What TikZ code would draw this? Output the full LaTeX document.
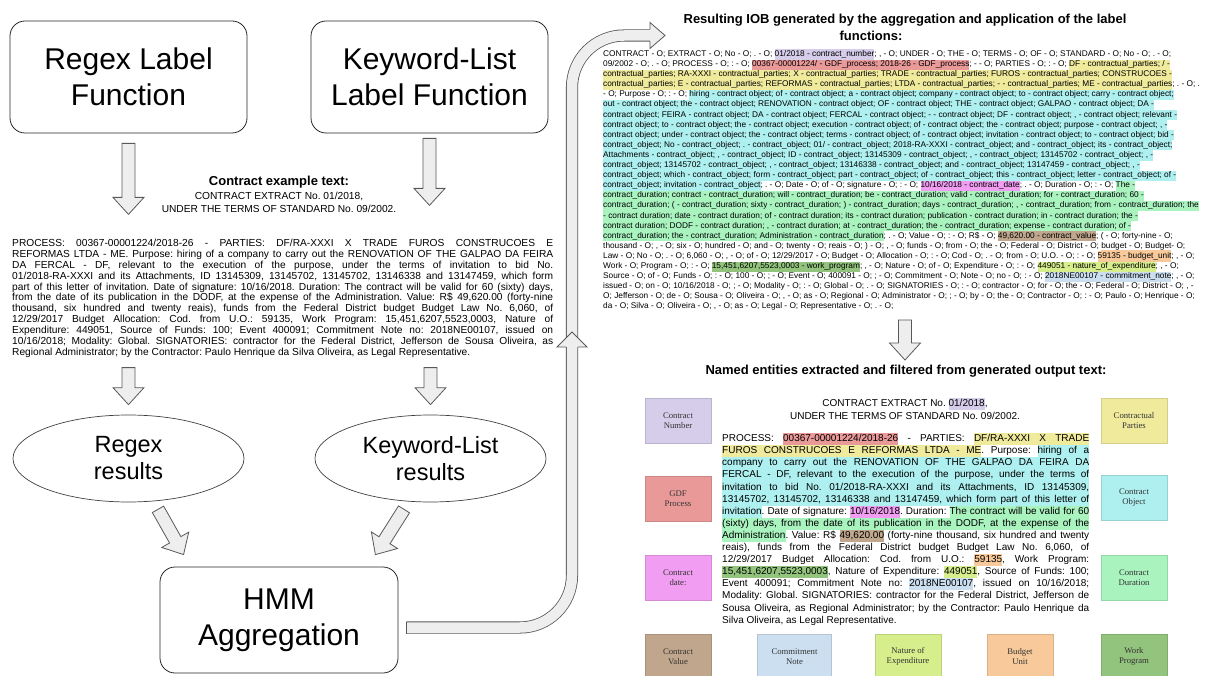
\documentclass[tikz,border=0pt]{standalone}
\usepackage{fontspec}
\setmainfont{Liberation Sans}
\newfontfamily\tagfont{Liberation Serif}
\usetikzlibrary{positioning,calc,shapes.geometric}

\definecolor{boxline}{HTML}{262626}
\definecolor{ellline}{HTML}{404040}
\definecolor{arrowfill}{HTML}{EEEEEE}
\definecolor{arrowline}{HTML}{595959}
\definecolor{tagtext}{HTML}{333333}
\definecolor{cnum}{HTML}{D5CDEA}
\definecolor{cgdf}{HTML}{EA9999}
\definecolor{cpart}{HTML}{F0EA9D}
\definecolor{cobj}{HTML}{AEEFF0}
\definecolor{cdate}{HTML}{F19DF1}
\definecolor{cdur}{HTML}{A9F3BF}
\definecolor{cval}{HTML}{BFA68C}
\definecolor{cbud}{HTML}{F8CA9B}
\definecolor{cwork}{HTML}{93C47D}
\definecolor{cnat}{HTML}{D6EE8C}
\definecolor{ccom}{HTML}{CCDFF1}

\setlength{\fboxsep}{0pt}
\frenchspacing

% highlight word by word, the gaps are coloured too (they stretch with the line)
\def\hlend{hl-end}
\newcommand{\hlx}[2]{\def\hlcol{#1}\hlxloop#2 \hlend}
\def\hlxloop#1 #2\hlend{\hlword{#1}\ifx\hlend#2\hlend\else\hlgap\hlxloop#2\hlend\fi}
\newcommand{\hlword}[1]{\colorbox{\hlcol}{\strut#1}}
\newcommand{\hlgap}{{\color{\hlcol}\leaders\hrule height\ht\strutbox depth\dp\strutbox\hskip\fontdimen2\font plus\fontdimen3\font minus\fontdimen4\font\relax}}
\newcommand{\jline}[1]{\leavevmode\hbox to\hsize{\spaceskip=0pt\xspaceskip=0pt #1}}
\newcommand{\iobline}[1]{\mbox{\spaceskip=0pt\xspaceskip=0pt #1}}
\newcommand{\oul}[1]{\setbox0\hbox{#1}\rlap{\color{cbud}\rule[-2.4pt]{\wd0}{0.9pt}}\box0}

% block arrow from #2 to the tip #3
\newcommand{\blockarrow}[3][]{%
  \coordinate (ba-s) at (#2);
  \coordinate (ba-t) at (#3);
  \coordinate (ba-b) at ($(ba-t)!17pt!(ba-s)$);
  \filldraw[arrowbody,#1] ($(ba-s)!6.5pt!90:(ba-t)$) -- ($(ba-b)!6.5pt!-90:(ba-s)$) -- ($(ba-b)!15.5pt!-90:(ba-s)$) -- (ba-t)
    -- ($(ba-b)!15.5pt!90:(ba-s)$) -- ($(ba-b)!6.5pt!90:(ba-s)$) -- ($(ba-s)!6.5pt!-90:(ba-t)$) -- cycle;}

\begin{document}
\begin{tikzpicture}[x=1pt, y=-1pt,
  every node/.style={inner sep=0pt},
  fnbox/.style={draw=boxline, line width=0.8pt, rounded corners=15pt, minimum width=237pt, minimum height=112pt, align=center, font=\fontsize{30}{36}\selectfont},
  resbox/.style={ellipse, draw=ellline, line width=0.7pt, minimum width=231pt, minimum height=87pt, align=center, font=\fontsize{23.5}{27}\selectfont},
  headline/.style={font=\bfseries\fontsize{13}{15}\selectfont},
  tagbox/.style={fill=#1, draw=#1!88!black, line width=0.4pt, minimum width=66pt, minimum height=45pt, align=center, text=tagtext, font=\tagfont\fontsize{8.7}{10}\selectfont},
  arrowbody/.style={fill=arrowfill, draw=arrowline, line width=0.8pt},
  looparrow/.style={draw=arrowline, line width=0.8pt, double=arrowfill, double distance=10.5pt, rounded corners=52pt}]
\useasboundingbox (0,0) rectangle (1208,676);

% left column
\node[fnbox] (rlf) at (128.5,77) {Regex Label\\Function};
\node[fnbox] (klf) at (429.5,77) {Keyword-List\\Label Function};

\node[headline] (extitle) at (279,182) {Contract example text:};
\node[font=\fontsize{10.2}{12.5}\selectfont, align=center] (exhead) at (279,202.5) {CONTRACT EXTRACT No. 01/2018,\\UNDER THE TERMS OF STANDARD No. 09/2002.};
\node[font=\fontsize{10.2}{10.9}\selectfont, text width=541pt, align=left, anchor=base west] (expara) at (12,246.5) {%
\jline{PROCESS: 00367-00001224/2018-26 - PARTIES: DF/RA-XXXI X TRADE FUROS CONSTRUCOES E}\\
\jline{REFORMAS LTDA - ME. Purpose: hiring of a company to carry out the RENOVATION OF THE GALPAO DA FEIRA}\\
\jline{DA FERCAL - DF, relevant to the execution of the purpose, under the terms of invitation to bid No.}\\
\jline{01/2018-RA-XXXI and its Attachments, ID 13145309, 13145702, 13145702, 13146338 and 13147459, which form}\\
\jline{part of this letter of invitation. Date of signature: 10/16/2018. Duration: The contract will be valid for 60 (sixty) days,}\\
\jline{from the date of its publication in the DODF, at the expense of the Administration. Value: R\$ 49,620.00 (forty-nine}\\
\jline{thousand, six hundred and twenty reais), funds from the Federal District budget Budget Law No. 6,060, of}\\
\jline{12/29/2017 Budget Allocation: Cod. from U.O.: 59135, Work Program: 15,451,6207,5523,0003, Nature of}\\
\jline{Expenditure: 449051, Source of Funds: 100; Event 400091; Commitment Note no: 2018NE00107, issued on}\\
\jline{10/16/2018; Modality: Global. SIGNATORIES: contractor for the Federal District, Jefferson de Sousa Oliveira, as}\\
\iobline{Regional Administrator; by the Contractor: Paulo Henrique da Silva Oliveira, as Legal Representative.}};

\node[resbox] (rres) at (128.5,458.5) {Regex\\results};
\node[resbox] (kres) at (430.5,458.5) {Keyword-List\\results};
\node[fnbox, minimum width=238pt, minimum height=106pt] (hmm) at (279,620) {HMM\\Aggregation};

\blockarrow{$(rlf.south)+(0,10)$}{$(rlf.south)+(0,81)$}
\blockarrow{$(klf.south)+(0,5)$}{$(klf.south)+(0,72)$}
\blockarrow{$(rres.north)+(0,-47)$}{$(rres.north)+(0,-10)$}
\blockarrow{$(kres.north)+(0,-47)$}{$(kres.north)+(0,-10)$}
\blockarrow{$(rres.south)+(29.5,7)$}{$(hmm.north west)+(24,-12)$}
\blockarrow{$(kres.south)+(-26.5,7)$}{$(hmm.north east)+(-23,-12)$}

% big arrow from the aggregation up to the IOB text
\coordinate (loopstart) at ($(hmm.east)+(8,7.5)$);
\coordinate (loopup) at (572,347);
\coordinate (loopend) at (650,35.5);
\draw[looparrow] (loopstart) -- (loopstart -| loopup) -- (loopend -| loopup) -- (loopend);
\draw[arrowline, line width=0.8pt] ($(loopstart)+(0,-6)$) -- ($(loopstart)+(0,6)$);
\fill[arrowfill] ($(loopend)+(0,-13)$) -- ($(loopend)+(15,0)$) -- ($(loopend)+(0,13)$) -- cycle;
\draw[arrowline, line width=0.8pt, line join=miter] ($(loopend)+(0,-6)$) -- ($(loopend)+(0,-13)$) -- ($(loopend)+(15,0)$) -- ($(loopend)+(0,13)$) -- ($(loopend)+(0,6)$);
\fill[arrowfill] ($(loopup)+(-15,0)$) -- ($(loopup)+(0,-15)$) -- ($(loopup)+(15,0)$) -- cycle;
\draw[arrowline, line width=0.8pt, line join=miter] ($(loopup)+(-6,0)$) -- ($(loopup)+(-15,0)$) -- ($(loopup)+(0,-15)$) -- ($(loopup)+(15,0)$) -- ($(loopup)+(6,0)$);

% right column: IOB output
\node[headline] (iobtitle) at (905,20) {Resulting IOB generated by the aggregation and application of the label};
\node[headline] (iobtitleb) at (871,36) {functions:};
\node[font=\fontsize{8.3}{10.1}\selectfont, text width=604pt, align=left, anchor=base west] (iob) at (603,56.5) {%
\iobline{CONTRACT - O; EXTRACT - O; No - O; . - O; \hlx{cnum}{01/2018 - contract\_number}; , - O; UNDER - O; THE - O; TERMS - O; OF - O; STANDARD - O; No - O; . - O;}\\
\iobline{09/2002 - O; . - O; PROCESS - O; : - O; \hlx{cgdf}{00367-00001224/ - GDF\_process; 2018-26 - GDF\_process}; - - O; PARTIES - O; : - O; \hlx{cpart}{DF - contractual\_parties; / -}}\\
\iobline{\hlx{cpart}{contractual\_parties; RA-XXXI - contractual\_parties; X - contractual\_parties; TRADE - contractual\_parties; FUROS - contractual\_parties; CONSTRUCOES -}}\\
\iobline{\hlx{cpart}{contractual\_parties; E - contractual\_parties; REFORMAS - contractual\_parties; LTDA - contractual\_parties; - - contractual\_parties; ME - contractual\_parties}; . - O; .}\\
\iobline{- O; Purpose - O; : - O; \hlx{cobj}{hiring - contract object; of - contract object; a - contract object; company - contract object; to - contract object; carry - contract object;}}\\
\iobline{\hlx{cobj}{out - contract object; the - contract object; RENOVATION - contract object; OF - contract object; THE - contract object; GALPAO - contract object; DA -}}\\
\iobline{\hlx{cobj}{contract object; FEIRA - contract object; DA - contract object; FERCAL - contract object; - - contract object; DF - contract object; , - contract object; relevant -}}\\
\iobline{\hlx{cobj}{contract object; to - contract object; the - contract object; execution - contract object; of - contract object; the - contract object; purpose - contract object; , -}}\\
\iobline{\hlx{cobj}{contract object; under - contract object; the - contract object; terms - contract object; of - contract object; invitation - contract object; to - contract object; bid -}}\\
\iobline{\hlx{cobj}{contract\_object; No - contract\_object; . - contract\_object; 01/ - contract\_object; 2018-RA-XXXI - contract\_object; and - contract\_object; its - contract\_object;}}\\
\iobline{\hlx{cobj}{Attachments - contract\_object; , - contract\_object; ID - contract\_object; 13145309 - contract\_object; , - contract\_object; 13145702 - contract\_object; , -}}\\
\iobline{\hlx{cobj}{contract\_object; 13145702 - contract\_object; , - contract\_object; 13146338 - contract\_object; and - contract\_object; 13147459 - contract\_object; , -}}\\
\iobline{\hlx{cobj}{contract\_object; which - contract\_object; form - contract\_object; part - contract\_object; of - contract\_object; this - contract\_object; letter - contract\_object; of -}}\\
\iobline{\hlx{cobj}{contract\_object; invitation - contract\_object}; . - O; Date - O; of - O; signature - O; : - O; \hlx{cdate}{10/16/2018 - contract\_date}; . - O; Duration - O; : - O; \hlx{cdur}{The -}}\\
\iobline{\hlx{cdur}{contract\_duration; contract - contract\_duration; will - contract\_duration; be - contract\_duration; valid - contract\_duration; for - contract\_duration; 60 -}}\\
\iobline{\hlx{cdur}{contract\_duration; ( - contract\_duration; sixty - contract\_duration; ) - contract\_duration; days - contract\_duration; , - contract\_duration; from - contract\_duration; the}}\\
\iobline{\hlx{cdur}{- contract duration; date - contract duration; of - contract duration; its - contract duration; publication - contract duration; in - contract duration; the -}}\\
\iobline{\hlx{cdur}{contract duration; DODF - contract duration; , - contract duration; at - contract\_duration; the - contract\_duration; expense - contract duration; of -}}\\
\iobline{\hlx{cdur}{contract\_duration; the - contract\_duration; Administration - contract\_duration}; . - O; Value - O; : - O; R\$ - O; \hlx{cval}{49,620.00 - contract\_value}; ( - O; forty-nine - O;}\\
\iobline{thousand - O; , - O; six - O; hundred - O; and - O; twenty - O; reais - O; ) - O; , - O; funds - O; from - O; the - O; Federal - O; District - O; \oul{budget - O; Budget} - O;}\\
\iobline{Law - O; No - O; . - O; 6,060 - O; , - O; of - O; 12/29/2017 - O; Budget - O; Allocation - O; : - O; Cod - O; . - O; from - O; U.O. - O; : - O; \hlx{cbud}{59135 - budget\_unit}; , - O;}\\
\iobline{Work - O; Program - O; : - O; \hlx{cwork}{15,451,6207,5523,0003 - work\_program}; , - O; Nature - O; of - O; Expenditure - O; : - O; \hlx{cnat}{449051 - nature\_of\_expenditure}; , - O;}\\
\iobline{Source - O; of - O; Funds - O; : - O; 100 - O; ; - O; Event - O; 400091 - O; ; - O; Commitment - O; Note - O; no - O; : - O; \hlx{ccom}{2018NE00107 - commitment\_note}; , - O;}\\
\iobline{issued - O; on - O; 10/16/2018 - O; ; - O; Modality - O; : - O; Global - O; . - O; SIGNATORIES - O; : - O; contractor - O; for - O; the - O; Federal - O; District - O; , -}\\
\iobline{O; Jefferson - O; de - O; Sousa - O; Oliveira - O; , - O; as - O; Regional - O; Administrator - O; ; - O; by - O; the - O; Contractor - O; : - O; Paulo - O; Henrique - O;}\\
\iobline{da - O; Silva - O; Oliveira - O; , - O; as - O; Legal - O; Representative - O; . - O;}};

% named entities
\node[headline] (netitle) at (906,371) {Named entities extracted and filtered from generated output text:};
\blockarrow{$(netitle.center)+(-1,-51)$}{$(netitle.center)+(-1,-11)$}
\node[font=\fontsize{10}{12.5}\selectfont, align=center] (nehead) at (905,408.5) {CONTRACT EXTRACT No. \hlx{cnum}{01/2018},\\UNDER THE TERMS OF STANDARD No. 09/2002.};
\node[font=\fontsize{10}{12.1}\selectfont, text width=367pt, align=left, anchor=base west] (nepara) at (722,441.6) {%
\jline{PROCESS: \hlx{cgdf}{00367-00001224/2018-26} - PARTIES: \hlx{cpart}{DF/RA-XXXI X TRADE}}\\
\jline{\hlx{cpart}{FUROS CONSTRUCOES E REFORMAS LTDA - ME}. Purpose: \hlx{cobj}{hiring of a}}\\
\jline{\hlx{cobj}{company to carry out the RENOVATION OF THE GALPAO DA FEIRA DA}}\\
\jline{\hlx{cobj}{FERCAL - DF, relevant to the execution of the purpose, under the terms of}}\\
\jline{\hlx{cobj}{invitation to bid No. 01/2018-RA-XXXI and its Attachments, ID 13145309,}}\\
\jline{\hlx{cobj}{13145702, 13145702, 13146338 and 13147459, which form part of this letter of}}\\
\jline{\hlx{cobj}{invitation}. Date of signature: \hlx{cdate}{10/16/2018}. Duration: \hlx{cdur}{The contract will be valid for 60}}\\
\jline{\hlx{cdur}{(sixty) days, from the date of its publication in the DODF, at the expense of the}}\\
\jline{\hlx{cdur}{Administration}. Value: R\$ \hlx{cval}{49,620.00} (forty-nine thousand, six hundred and twenty}\\
\jline{reais), funds from the Federal District budget Budget Law No. 6,060, of}\\
\jline{12/29/2017 Budget Allocation: Cod. from U.O.: \hlx{cbud}{59135}, Work Program:}\\
\jline{\hlx{cwork}{15,451,6207,5523,0003}, Nature of Expenditure: \hlx{cnat}{449051}, Source of Funds: 100;}\\
\jline{Event 400091; Commitment Note no: \hlx{ccom}{2018NE00107}, issued on 10/16/2018;}\\
\jline{Modality: Global. SIGNATORIES: contractor for the Federal District, Jefferson de}\\
\jline{Sousa Oliveira, as Regional Administrator; by the Contractor: Paulo Henrique da}\\
\iobline{Silva Oliveira, as Legal Representative.}};

% entity tags
\node[tagbox=cnum] (tnum) at (678,420.5) {Contract\\Number};
\node[tagbox=cpart] (tpart) at (1134,420.5) {Contractual\\Parties};
\node[tagbox=cgdf] (tgdf) at (678,499) {GDF\\Process};
\node[tagbox=cobj] (tobj) at (1134,497.5) {Contract\\Object};
\node[tagbox=cdate] (tdate) at (678,577.5) {Contract\\date:};
\node[tagbox=cdur] (tdur) at (1134,577.5) {Contract\\Duration};
\node[tagbox=cval] (tval) at (678,656.5) {Contract\\Value};
\node[tagbox=ccom, minimum width=74pt] (tcom) at (794.5,656.5) {Commitment\\Note};
\node[tagbox=cnat] (tnat) at (908,656.5) {Nature of\\Expenditure};
\node[tagbox=cbud] (tbud) at (1020,656.5) {Budget\\Unit};
\node[tagbox=cwork] (twork) at (1134,656.5) {Work\\Program};
\end{tikzpicture}
\end{document}
